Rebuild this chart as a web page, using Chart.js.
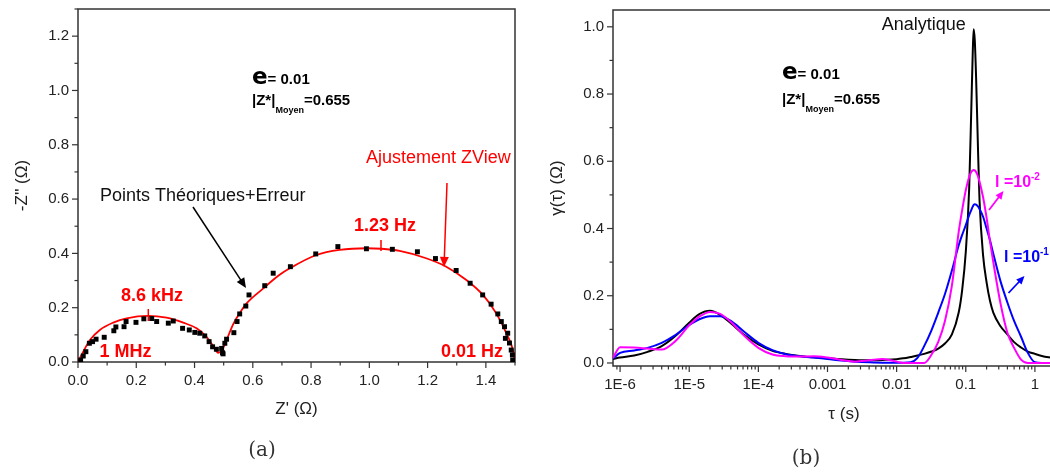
<!DOCTYPE html>
<html>
<head>
<meta charset="utf-8">
<script src="https://cdn.jsdelivr.net/npm/chart.js@4.4.1/dist/chart.umd.min.js"></script>
<style>
  html, body { margin: 0; padding: 0; background: #fff; overflow: hidden; }
  body { width: 1050px; height: 473px; position: relative; }
  #wrapA { position: absolute; left: 0; top: 0; width: 530px; height: 473px; }
  #wrapB { position: absolute; left: 530px; top: 0; width: 560px; height: 473px; }
</style>
</head>
<body>
<div id="wrapA"><canvas id="nyquistChart" width="530" height="473"></canvas></div>
<div id="wrapB"><canvas id="drtChart" width="560" height="473"></canvas></div>
<script>
// (a) Nyquist : points theoriques + erreur
const ptsRe = [0.009, 0.018, 0.027, 0.039, 0.050, 0.062, 0.090, 0.123, 0.130, 0.158, 0.165, 0.199, 0.226, 0.253, 0.270, 0.310, 0.327, 0.359, 0.382, 0.401, 0.418, 0.435, 0.450, 0.462, 0.475, 0.493, 0.496, 0.498, 0.504, 0.510, 0.535, 0.546, 0.555, 0.576, 0.587, 0.641, 0.670, 0.729, 0.816, 0.892, 0.990, 1.079, 1.165, 1.227, 1.298, 1.346, 1.389, 1.418, 1.441, 1.453, 1.464, 1.475, 1.467, 1.481, 1.487, 1.491, 1.492];
const ptsIm = [0.007, 0.022, 0.038, 0.069, 0.075, 0.084, 0.091, 0.115, 0.129, 0.130, 0.149, 0.146, 0.159, 0.160, 0.149, 0.143, 0.151, 0.124, 0.118, 0.109, 0.106, 0.096, 0.075, 0.056, 0.047, 0.050, 0.034, 0.030, 0.069, 0.084, 0.108, 0.149, 0.177, 0.206, 0.247, 0.281, 0.327, 0.351, 0.398, 0.425, 0.417, 0.415, 0.406, 0.381, 0.337, 0.290, 0.247, 0.213, 0.177, 0.149, 0.130, 0.106, 0.087, 0.070, 0.044, 0.026, 0.007];

// (a) ajustement ZView
const fitRe = [0, 0.018, 0.041, 0.075, 0.121, 0.167, 0.241, 0.304, 0.361, 0.407, 0.441, 0.464, 0.481, 0.493, 0.510, 0.532, 0.555, 0.578, 0.635, 0.692, 0.727, 0.818, 0.898, 0.990, 1.041, 1.104, 1.195, 1.264, 1.333, 1.390, 1.435, 1.470, 1.493, 1.500];
const fitIm = [0, 0.038, 0.081, 0.118, 0.145, 0.161, 0.170, 0.163, 0.145, 0.124, 0.093, 0.059, 0.034, 0.042, 0.081, 0.138, 0.180, 0.215, 0.270, 0.321, 0.345, 0.394, 0.413, 0.419, 0.417, 0.409, 0.382, 0.351, 0.302, 0.247, 0.180, 0.106, 0.044, 0.0];

// (b) DRT gamma(tau)
const tauValues = [7.9e-7, 1e-6, 1.6e-6, 2.5e-6, 4e-6, 6.3e-6, 1e-5, 1.4e-5, 2e-5, 2.8e-5, 4e-5, 6.3e-5, 1e-4, 1.6e-4, 2.5e-4, 4e-4, 6.3e-4, 1e-3, 1.6e-3, 2.5e-3, 4e-3, 6.3e-3, 0.01, 0.0126, 0.016, 0.02, 0.025, 0.032, 0.04, 0.05, 0.063, 0.079, 0.089, 0.1, 0.112, 0.12, 0.126, 0.13, 0.135, 0.141, 0.151, 0.158, 0.178, 0.2, 0.224, 0.25, 0.316, 0.4, 0.5, 0.63, 0.79, 1, 1.26, 1.58, 2, 3.2];
const gammaAnalytique = [0.012, 0.016, 0.022, 0.033, 0.05, 0.08, 0.12, 0.145, 0.155, 0.143, 0.118, 0.083, 0.055, 0.036, 0.027, 0.021, 0.017, 0.014, 0.011, 0.009, 0.008, 0.009, 0.011, 0.014, 0.018, 0.022, 0.027, 0.034, 0.043, 0.058, 0.085, 0.15, 0.22, 0.33, 0.52, 0.75, 0.92, 0.993, 0.96, 0.85, 0.62, 0.485, 0.32, 0.24, 0.185, 0.15, 0.11, 0.085, 0.062, 0.046, 0.034, 0.027, 0.021, 0.017, 0.014, 0.01];
const gammaL2 = [0.015, 0.047, 0.046, 0.043, 0.04, 0.065, 0.112, 0.138, 0.152, 0.146, 0.122, 0.08, 0.045, 0.025, 0.02, 0.019, 0.02, 0.016, 0.009, 0.004, 0.008, 0.012, 0.004, 0, 0, 0, 0, 0.025, 0.063, 0.125, 0.23, 0.39, 0.457, 0.514, 0.554, 0.568, 0.573, 0.574, 0.573, 0.568, 0.554, 0.54, 0.493, 0.432, 0.362, 0.30, 0.18, 0.09, 0.045, 0.01, 0, 0, 0, 0, 0, 0];
const gammaL1 = [0.013, 0.03, 0.037, 0.045, 0.06, 0.083, 0.113, 0.13, 0.139, 0.139, 0.125, 0.092, 0.06, 0.038, 0.026, 0.02, 0.016, 0.012, 0.007, 0.004, 0.002, 0.001, 0.001, 0.001, 0.002, 0.015, 0.05, 0.098, 0.15, 0.205, 0.275, 0.35, 0.382, 0.41, 0.44, 0.455, 0.465, 0.47, 0.472, 0.471, 0.465, 0.458, 0.435, 0.40, 0.365, 0.325, 0.245, 0.18, 0.125, 0.078, 0.03, 0.002, 0, 0, 0, 0];

const tauTickValues = [1e-6, 1e-5, 1e-4, 1e-3, 0.01, 0.1, 1];
const tauTickLabels = ['1E-6', '1E-5', '1E-4', '0.001', '0.01', '0.1', '1'];

const SANS = '"Liberation Sans", Arial, sans-serif';
Chart.defaults.font.family = SANS;
Chart.defaults.color = '#222';

const toXY = (xs, ys) => xs.map((x, i) => ({ x: x, y: ys[i] }));

function evenLabel(v) {
    return Math.abs(v * 5 - Math.round(v * 5)) < 1e-6 ? v.toFixed(1) : '';
}

function tauLabel(v) {
    const i = tauTickValues.findIndex(t => Math.abs(Math.log10(t) - Math.log10(v)) < 1e-6);
    return i >= 0 ? tauTickLabels[i] : '';
}

// keep the plot box where I put it (no extra room for edge labels)
function fixWidth(w) {
    return s => { s.width = w; s.paddingTop = 0; s.paddingBottom = 0; };
}
function fixHeight(h) {
    return s => { s.height = h; s.paddingLeft = 0; s.paddingRight = 0; };
}

// frame + major/minor tick marks, drawn from the scales' own ticks
const axisFrame = {
    id: 'axisFrame',
    beforeDatasetsDraw(chart) {
        const ctx = chart.ctx;
        const a = chart.chartArea;
        ctx.save();
        ctx.strokeStyle = '#333';
        ctx.lineWidth = 1.5;
        ctx.strokeRect(a.left, a.top, a.right - a.left, a.bottom - a.top);
        ctx.lineWidth = 1.2;
        Object.values(chart.scales).forEach(s => {
            s.ticks.forEach(t => {
                const v = t.value;
                if (v < s.min - 1e-12 || v > s.max + 1e-12) return;
                let major;
                if (s.type === 'logarithmic') {
                    const e = Math.log10(v);
                    const sig = v / Math.pow(10, Math.floor(e + 1e-9));
                    if (Math.abs(sig - Math.round(sig)) > 1e-6) return;
                    major = Math.abs(e - Math.round(e)) < 1e-6;
                } else {
                    major = Math.abs(v * 5 - Math.round(v * 5)) < 1e-6;
                }
                const len = major ? 6 : 3.5;
                const p = s.getPixelForValue(v);
                ctx.beginPath();
                if (s.axis === 'x') { ctx.moveTo(p, a.bottom); ctx.lineTo(p, a.bottom + len); }
                else { ctx.moveTo(a.left, p); ctx.lineTo(a.left - len, p); }
                ctx.stroke();
            });
        });
        ctx.restore();
    }
};

function rich(ctx, x, y, parts) {
    let cx = x;
    parts.forEach(p => {
        ctx.font = p.font;
        ctx.fillStyle = p.color || '#000';
        ctx.fillText(p.t, cx, y + (p.dy || 0));
        cx += ctx.measureText(p.t).width;
    });
}

function arrow(ctx, x1, y1, x2, y2, color, width, head) {
    const ang = Math.atan2(y2 - y1, x2 - x1);
    ctx.save();
    ctx.strokeStyle = color;
    ctx.fillStyle = color;
    ctx.lineWidth = width;
    ctx.beginPath();
    ctx.moveTo(x1, y1);
    ctx.lineTo(x2 - head * 0.8 * Math.cos(ang), y2 - head * 0.8 * Math.sin(ang));
    ctx.stroke();
    ctx.beginPath();
    ctx.moveTo(x2, y2);
    ctx.lineTo(x2 - head * Math.cos(ang - 0.42), y2 - head * Math.sin(ang - 0.42));
    ctx.lineTo(x2 - head * Math.cos(ang + 0.42), y2 - head * Math.sin(ang + 0.42));
    ctx.closePath();
    ctx.fill();
    ctx.restore();
}

function errorBlock(ctx, x, y1, y2) {
    rich(ctx, x, y1, [
        { t: 'e', font: 'bold 23px "DejaVu Sans", sans-serif' },
        { t: '= 0.01', font: 'bold 15px ' + SANS }
    ]);
    rich(ctx, x, y2, [
        { t: '|Z*|', font: 'bold 15px ' + SANS },
        { t: 'Moyen', font: 'bold 9px ' + SANS, dy: 8 },
        { t: '=0.655', font: 'bold 15px ' + SANS }
    ]);
}

const notesA = {
    id: 'notesA',
    afterDraw(chart) {
        const ctx = chart.ctx;
        ctx.save();
        ctx.textBaseline = 'alphabetic';
        ctx.textAlign = 'left';
        errorBlock(ctx, 252, 83.5, 105);
        rich(ctx, 100, 201, [{ t: 'Points Théoriques+Erreur', font: '18px ' + SANS, color: '#111' }]);
        rich(ctx, 366, 163, [{ t: 'Ajustement ZView', font: '18px ' + SANS, color: '#ff0000' }]);
        const red = { font: 'bold 18px ' + SANS, color: '#ff0000' };
        rich(ctx, 121, 301, [Object.assign({ t: '8.6 kHz' }, red)]);
        rich(ctx, 99.5, 357, [Object.assign({ t: '1 MHz' }, red)]);
        rich(ctx, 354, 231, [Object.assign({ t: '1.23 Hz' }, red)]);
        rich(ctx, 441, 357, [Object.assign({ t: '0.01 Hz' }, red)]);
        ctx.strokeStyle = '#ff0000';
        ctx.lineWidth = 1.5;
        ctx.beginPath();
        ctx.moveTo(148.3, 309); ctx.lineTo(148.3, 321);
        ctx.moveTo(381, 240); ctx.lineTo(381, 251);
        ctx.stroke();
        arrow(ctx, 193, 207, 246, 288, '#000', 1.5, 11);
        arrow(ctx, 447, 183, 444, 267, '#ff0000', 1.5, 11);
        ctx.textAlign = 'center';
        ctx.font = '20px "DejaVu Serif", serif';
        ctx.fillStyle = '#333';
        ctx.fillText('(a)', 262, 456);
        ctx.restore();
    }
};

const notesB = {
    id: 'notesB',
    afterDraw(chart) {
        const ctx = chart.ctx;
        ctx.save();
        ctx.textBaseline = 'alphabetic';
        ctx.textAlign = 'left';
        rich(ctx, 351.7, 30, [{ t: 'Analytique', font: '18px ' + SANS, color: '#111' }]);
        errorBlock(ctx, 252, 79, 103.5);
        rich(ctx, 465, 187, [
            { t: 'l =10', font: 'bold 16px ' + SANS, color: '#ff00ff' },
            { t: '-2', font: 'bold 10px ' + SANS, color: '#ff00ff', dy: -7 }
        ]);
        rich(ctx, 474, 262, [
            { t: 'l =10', font: 'bold 16px ' + SANS, color: '#0000ff' },
            { t: '-1', font: 'bold 10px ' + SANS, color: '#0000ff', dy: -7 }
        ]);
        arrow(ctx, 459, 210, 473.5, 191, '#ff00ff', 1.8, 9);
        arrow(ctx, 478.5, 293, 494.5, 276, '#0000ff', 1.8, 9);
        ctx.textAlign = 'center';
        ctx.font = '20px "DejaVu Serif", serif';
        ctx.fillStyle = '#333';
        ctx.fillText('(b)', 276, 464);
        ctx.restore();
    }
};

const quiet = { legend: { display: false }, tooltip: { enabled: false } };

new Chart(document.getElementById('nyquistChart'), {
    type: 'scatter',
    data: {
        datasets: [
            {
                label: 'Points Théoriques+Erreur',
                data: toXY(ptsRe, ptsIm),
                pointStyle: 'rect',
                pointRadius: 3.5,
                backgroundColor: '#000',
                borderColor: '#000',
                borderWidth: 0
            },
            {
                label: 'Ajustement ZView',
                data: toXY(fitRe, fitIm),
                showLine: true,
                borderColor: '#ff0000',
                borderWidth: 1.8,
                pointRadius: 0,
                cubicInterpolationMode: 'monotone',
                fill: false
            }
        ]
    },
    options: {
        responsive: false,
        animation: false,
        layout: { padding: { left: 0, top: 9, right: 15, bottom: 51 } },
        plugins: quiet,
        scales: {
            x: {
                type: 'linear', min: 0, max: 1.5,
                grid: { display: false, drawTicks: false },
                border: { display: false },
                ticks: { stepSize: 0.1, autoSkip: false, maxRotation: 0, padding: 10, font: { size: 15 }, color: '#222', callback: evenLabel },
                title: { display: true, text: "Z' (Ω)", font: { size: 17 }, color: '#222', padding: { top: 0, bottom: 2 } },
                afterFit: fixHeight(60)
            },
            y: {
                type: 'linear', min: 0, max: 1.3,
                grid: { display: false, drawTicks: false },
                border: { display: false },
                ticks: { stepSize: 0.1, autoSkip: false, padding: 9, font: { size: 15 }, color: '#222', callback: evenLabel },
                title: { display: true, text: "-Z'' (Ω)", font: { size: 17 }, color: '#222', padding: { top: 12, bottom: 0 } },
                afterFit: fixWidth(78)
            }
        }
    },
    plugins: [axisFrame, notesA]
});

new Chart(document.getElementById('drtChart'), {
    type: 'scatter',
    data: {
        datasets: [
            { label: 'l=1e-2', data: toXY(tauValues, gammaL2), showLine: true, borderColor: '#ff00ff', borderWidth: 2, pointRadius: 0, cubicInterpolationMode: 'monotone' },
            { label: 'l=1e-1', data: toXY(tauValues, gammaL1), showLine: true, borderColor: '#0000ff', borderWidth: 2, pointRadius: 0, cubicInterpolationMode: 'monotone' },
            { label: 'Analytique', data: toXY(tauValues, gammaAnalytique), showLine: true, borderColor: '#000', borderWidth: 2, pointRadius: 0, cubicInterpolationMode: 'monotone' }
        ]
    },
    options: {
        responsive: false,
        animation: false,
        layout: { padding: { left: 0, top: 10, right: 15, bottom: 47 } },
        plugins: quiet,
        scales: {
            x: {
                type: 'logarithmic', min: 7.9e-7, max: 3.8,
                grid: { display: false, drawTicks: false },
                border: { display: false },
                ticks: { autoSkip: false, maxRotation: 0, padding: 10, font: { size: 15 }, color: '#222', callback: tauLabel },
                title: { display: true, text: 'τ (s)', font: { size: 17 }, color: '#222', padding: { top: 0, bottom: 1 } },
                afterFit: fixHeight(60)
            },
            y: {
                type: 'linear', min: -0.009, max: 1.05,
                grid: { display: false, drawTicks: false },
                border: { display: false },
                ticks: { stepSize: 0.1, includeBounds: false, autoSkip: false, padding: 9, font: { size: 15 }, color: '#222', callback: evenLabel },
                title: { display: true, text: 'γ(τ) (Ω)', font: { size: 17 }, color: '#222', padding: { top: 17, bottom: 0 } },
                afterFit: fixWidth(83)
            }
        }
    },
    plugins: [axisFrame, notesB]
});
</script>
</body>
</html>
